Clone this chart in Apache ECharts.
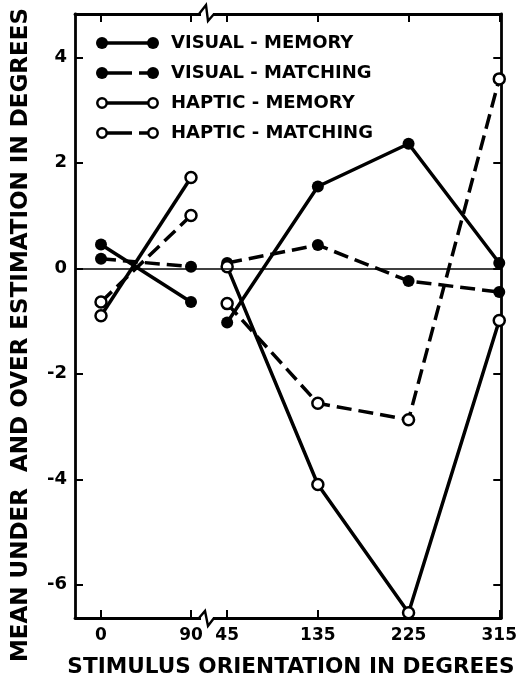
<!DOCTYPE html>
<html><head><meta charset="utf-8">
<script src="https://cdn.jsdelivr.net/npm/echarts@6/dist/echarts.min.js"></script>
<style>html,body{margin:0;padding:0;background:#fff}#c{width:520px;height:680px}</style>
</head><body><div id="c"></div>
<script>
// ---- data ----
const seriesNames = ['VISUAL - MEMORY', 'VISUAL - MATCHING', 'HAPTIC - MEMORY', 'HAPTIC - MATCHING'];
const xLeft = [0, 90];
const xRight = [45, 135, 225, 315];
const visualMemoryLeft = [0.45, -0.64];
const visualMatchingLeft = [0.18, 0.03];
const hapticMemoryLeft = [-0.90, 1.72];
const hapticMatchingLeft = [-0.64, 1.0];
const visualMemoryRight = [-1.03, 1.55, 2.36, 0.10];
const visualMatchingRight = [0.10, 0.44, -0.24, -0.45];
const hapticMemoryRight = [0.03, -4.10, -6.53, -0.99];
const hapticMatchingRight = [-0.67, -2.56, -2.87, 3.59];
const yTicks = [-6, -4, -2, 0, 2, 4];
const xTicksLeft = [0, 90];
const xTicksRight = [45, 135, 225, 315];
const yTitle = 'MEAN UNDER  AND OVER ESTIMATION IN DEGREES';
const xTitle = 'STIMULUS ORIENTATION IN DEGREES';

const FONT = 'DejaVu Sans';
const chart = echarts.init(document.getElementById('c'), null, {renderer: 'canvas'});

function icon(filled, dashed) {
  const c = filled
    ? '<circle cx="6" cy="7" r="6" fill="#000"/><circle cx="57" cy="7" r="6" fill="#000"/>'
    : '<circle cx="6" cy="7" r="4.7" fill="#fff" stroke="#000" stroke-width="2.5"/><circle cx="57" cy="7" r="4.7" fill="#fff" stroke="#000" stroke-width="2.5"/>';
  const line = '<line x1="' + (filled ? 6 : 11) + '" y1="7" x2="' + (filled ? 57 : 52) + '" y2="7" stroke="#000" stroke-width="3.6"' +
    (dashed ? ' stroke-dasharray="' + (filled ? '30,7' : '25,7') + '"' : '') + '/>';
  const svg = '<svg xmlns="http://www.w3.org/2000/svg" width="70" height="14" viewBox="0 0 70 14">' + line + c + '</svg>';
  return 'image://data:image/svg+xml;charset=utf-8,' + encodeURIComponent(svg);
}
const icons = [icon(true, false), icon(true, true), icon(false, false), icon(false, true)];

function mk(name, xs, ys, g, filled, dashed, withZero) {
  const s = {
    type: 'line', name: name, xAxisIndex: g, yAxisIndex: g,
    data: xs.map((x, i) => [x, ys[i]]),
    symbol: 'circle', symbolSize: filled ? 12 : 11, showSymbol: true,
    lineStyle: {color: '#000', width: 3.5, type: dashed ? [15, 7] : 'solid'},
    itemStyle: {color: filled ? '#000' : '#fff', borderColor: '#000', borderWidth: filled ? 0 : 2.5},
    emphasis: {disabled: true}, z: 3, animation: false
  };
  if (withZero) {
    s.markLine = {silent: true, symbol: 'none', label: {show: false},
      lineStyle: {color: '#000', width: 1.5, type: 'solid'}, data: [{yAxis: 0}], animation: false};
  }
  return s;
}

const axisLine = {show: true, onZero: false, lineStyle: {color: '#000', width: 2.8}};
const tick = vals => ({show: true, inside: true, length: 8, customValues: vals, lineStyle: {color: '#000', width: 2}});
const labelStyle = {color: '#000', fontFamily: FONT, fontWeight: 'bold'};

const option = {
  backgroundColor: '#fff',
  animation: false,
  grid: [
    {left: 75, top: 14, width: 132, height: 604},
    {left: 207, top: 14, width: 296, height: 604}
  ],
  xAxis: [
    {gridIndex: 0, type: 'value', min: -26, max: 106, position: 'bottom', axisLine: axisLine, axisTick: tick(xTicksLeft),
      axisLabel: Object.assign({customValues: xTicksLeft, fontSize: 17, margin: 9}, labelStyle), splitLine: {show: false}},
    {gridIndex: 1, type: 'value', min: 25, max: 317, position: 'bottom', axisLine: axisLine, axisTick: tick(xTicksRight),
      axisLabel: Object.assign({customValues: xTicksRight, fontSize: 17, margin: 9}, labelStyle), splitLine: {show: false}},
    {gridIndex: 0, type: 'value', min: -26, max: 106, position: 'top', axisLine: axisLine, axisTick: tick(xTicksLeft),
      axisLabel: {show: false}, splitLine: {show: false}},
    {gridIndex: 1, type: 'value', min: 25, max: 317, position: 'top', axisLine: axisLine, axisTick: tick(xTicksRight),
      axisLabel: {show: false}, splitLine: {show: false}}
  ],
  yAxis: [
    {gridIndex: 0, type: 'value', min: -6.63, max: 4.82, position: 'left', axisLine: axisLine, axisTick: tick(yTicks),
      axisLabel: Object.assign({customValues: yTicks, fontSize: 18, margin: 8}, labelStyle), splitLine: {show: false}},
    {gridIndex: 1, type: 'value', min: -6.63, max: 4.82, position: 'right', axisLine: axisLine, axisTick: tick(yTicks),
      axisLabel: {show: false}, splitLine: {show: false}}
  ],
  legend: {
    orient: 'vertical', left: 91, top: 29, itemWidth: 70, itemHeight: 14, itemGap: 12,
    selectedMode: false,
    textStyle: {color: '#000', fontFamily: FONT, fontWeight: 'bold', fontSize: 18, lineHeight: 18},
    data: seriesNames.map((n, i) => ({name: n, icon: icons[i]}))
  },
  series: [
    mk(seriesNames[0], xLeft, visualMemoryLeft, 0, true, false, true),
    mk(seriesNames[1], xLeft, visualMatchingLeft, 0, true, true),
    mk(seriesNames[2], xLeft, hapticMemoryLeft, 0, false, false),
    mk(seriesNames[3], xLeft, hapticMatchingLeft, 0, false, true),
    mk(seriesNames[0], xRight, visualMemoryRight, 1, true, false, true),
    mk(seriesNames[1], xRight, visualMatchingRight, 1, true, true),
    mk(seriesNames[2], xRight, hapticMemoryRight, 1, false, false),
    mk(seriesNames[3], xRight, hapticMatchingRight, 1, false, true)
  ],
  graphic: [
    {type: 'rect', z: 10, shape: {x: 201, y: 11, width: 12, height: 6}, style: {fill: '#fff'}},
    {type: 'polyline', z: 11, shape: {points: [[199, 14], [206, 5], [208, 21], [214, 14]]},
      style: {stroke: '#000', lineWidth: 2.4, fill: null}},
    {type: 'rect', z: 10, shape: {x: 201, y: 615, width: 12, height: 6}, style: {fill: '#fff'}},
    {type: 'polyline', z: 11, shape: {points: [[199, 618], [205, 611], [208, 626], [214, 618]]},
      style: {stroke: '#000', lineWidth: 2.4, fill: null}},
    {type: 'text', z: 10, x: 21, y: 335, rotation: Math.PI / 2,
      style: {text: yTitle, fill: '#000', font: 'bold 23px "' + FONT + '"', textAlign: 'center', textVerticalAlign: 'middle'}},
    {type: 'text', z: 10, x: 291, y: 667,
      style: {text: xTitle, fill: '#000', font: 'bold 21.6px "' + FONT + '"', textAlign: 'center', textVerticalAlign: 'middle'}}
  ]
};
chart.setOption(option);
</script>
</body></html>
